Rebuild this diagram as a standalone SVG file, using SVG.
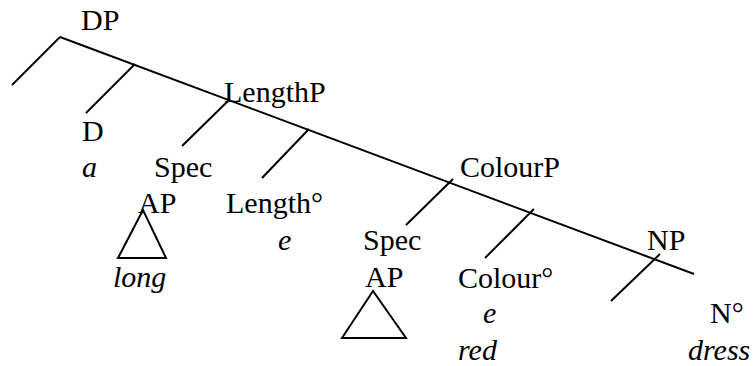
<svg xmlns="http://www.w3.org/2000/svg" width="754" height="366" viewBox="0 0 754 366">
<style>
.t{font-family:"Liberation Serif","Times New Roman",serif;font-size:30px;fill:#000}
.i{font-style:italic}
.l{stroke:#000;stroke-width:2;fill:none;stroke-linecap:butt}
</style>
<rect width="754" height="366" fill="#fff"/>
<g id="connectors">
<line class="l" x1="60" y1="37" x2="694" y2="274"/>
<line class="l" x1="60" y1="37" x2="12" y2="85"/>
<line class="l" x1="135" y1="64" x2="86" y2="113"/>
<line class="l" x1="228" y1="101" x2="182" y2="146"/>
<line class="l" x1="309" y1="129" x2="262" y2="178"/>
<line class="l" x1="453" y1="179" x2="406" y2="225"/>
<line class="l" x1="534" y1="209" x2="485" y2="258"/>
<line class="l" x1="660" y1="254" x2="611" y2="301"/>
</g>
<g id="DP"><text class="t" x="81" y="30">DP</text></g>
<g id="D"><text class="t" x="82" y="141">D</text><text class="t i" x="82" y="177">a</text></g>
<g id="LengthP"><text class="t" x="224" y="102">LengthP</text></g>
<g id="Spec1"><text class="t" x="154" y="177">Spec</text><text class="t" x="138" y="213">AP</text>
<polygon class="l" points="143,210 118,258 166,258"/>
<text class="t i" x="113" y="287">long</text></g>
<g id="Length"><text class="t" x="226" y="213">Length°</text><text class="t i" x="278" y="250">e</text></g>
<g id="ColourP"><text class="t" x="460" y="177">ColourP</text></g>
<g id="Spec2"><text class="t" x="363" y="250">Spec</text><text class="t" x="365" y="287">AP</text>
<polygon class="l" points="373,291 342,338 406,338"/></g>
<g id="Colour"><text class="t" x="458" y="288">Colour°</text><text class="t i" x="483" y="323">e</text><text class="t i" x="458" y="360">red</text></g>
<g id="NP"><text class="t" x="647" y="250">NP</text></g>
<g id="N"><text class="t" x="710" y="323">N°</text><text class="t i" x="688" y="360">dress</text></g>
</svg>
